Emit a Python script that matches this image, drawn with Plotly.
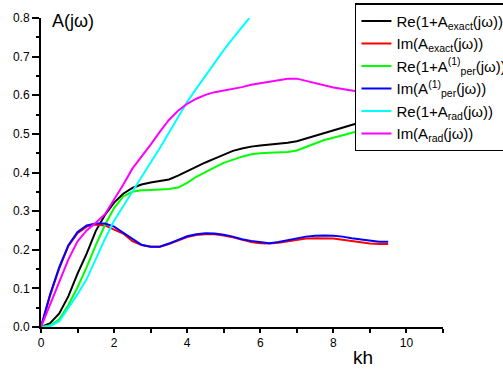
import plotly.graph_objects as go

kh = [0, 0.25, 0.5, 0.75, 1, 1.25, 1.5, 1.75, 2, 2.25, 2.5, 2.75, 3, 3.25, 3.5, 3.75,
      4, 4.25, 4.5, 4.75, 5, 5.25, 5.5, 5.75, 6, 6.25, 6.5, 6.75, 7, 7.25, 7.5, 7.75,
      8, 8.25, 8.5, 8.75, 9, 9.25, 9.5]

re_exact = [0, 0.01, 0.035, 0.08, 0.138, 0.19, 0.249, 0.29, 0.322, 0.345, 0.36, 0.369,
            0.374, 0.378, 0.382, 0.392, 0.404, 0.414, 0.426, 0.436, 0.446, 0.456, 0.462,
            0.467, 0.47, 0.472, 0.474, 0.477, 0.481, 0.488, 0.496, 0.504, 0.511, 0.518,
            0.524, 0.53, 0.535, 0.54, 0.544]

im_exact = [0, 0.082, 0.152, 0.21, 0.243, 0.26, 0.265, 0.263, 0.252, 0.242, 0.222, 0.212,
            0.208, 0.208, 0.215, 0.225, 0.233, 0.238, 0.24, 0.24, 0.237, 0.232, 0.225,
            0.22, 0.217, 0.216, 0.218, 0.222, 0.226, 0.229, 0.23, 0.23, 0.229, 0.226,
            0.222, 0.219, 0.216, 0.215, 0.215]

re_per = [0, 0.004, 0.02, 0.057, 0.103, 0.155, 0.212, 0.264, 0.308, 0.338, 0.35, 0.354,
          0.355, 0.356, 0.357, 0.361, 0.373, 0.389, 0.402, 0.413, 0.425, 0.434, 0.441,
          0.447, 0.45, 0.451, 0.452, 0.453, 0.457, 0.466, 0.476, 0.484, 0.49, 0.496,
          0.503, 0.51, 0.515, 0.52, 0.524]

im_per = [0, 0.085, 0.155, 0.212, 0.246, 0.263, 0.268, 0.268, 0.26, 0.245, 0.228, 0.213,
          0.208, 0.208, 0.216, 0.226, 0.235, 0.24, 0.243, 0.242, 0.239, 0.234, 0.227,
          0.223, 0.22, 0.217, 0.22, 0.225, 0.23, 0.234, 0.236, 0.237, 0.236, 0.234,
          0.23, 0.227, 0.223, 0.221, 0.221]

kh_rad = [0, 0.25, 0.5, 0.75, 1, 1.25, 1.5, 1.75, 2, 2.25, 2.5, 2.75, 3, 3.25, 3.5, 3.75,
          4, 4.25, 4.5, 4.75, 5, 5.25, 5.5, 5.7]
re_rad = [0, 0.002, 0.015, 0.05, 0.085, 0.124, 0.178, 0.228, 0.275, 0.313, 0.353, 0.39,
          0.426, 0.463, 0.503, 0.545, 0.583, 0.617, 0.65, 0.685, 0.717, 0.747, 0.775, 0.80]

im_rad = [0, 0.06, 0.118, 0.175, 0.222, 0.25, 0.27, 0.292, 0.33, 0.368, 0.41, 0.44,
          0.472, 0.505, 0.536, 0.56, 0.578, 0.591, 0.601, 0.608, 0.612, 0.616, 0.621,
          0.627, 0.631, 0.635, 0.639, 0.643, 0.643, 0.637, 0.63, 0.625, 0.62, 0.616,
          0.612, 0.608, 0.604, 0.6, 0.597]

series = [
    ("Re(1+A<sub>exact</sub>(jω))", kh, re_exact, "#000000"),
    ("Im(A<sub>exact</sub>(jω))", kh, im_exact, "#ff0000"),
    ("Re(1+A<sup>(1)</sup><sub>per</sub>(jω))", kh, re_per, "#00ff00"),
    ("Im(A<sup>(1)</sup><sub>per</sub>(jω))", kh, im_per, "#0000ff"),
    ("Re(1+A<sub>rad</sub>(jω))", kh_rad, re_rad, "#00ffff"),
    ("Im(A<sub>rad</sub>(jω))", kh, im_rad, "#ff00ff"),
]

fig = go.Figure()
for name, xs, ys, col in series:
    fig.add_trace(go.Scatter(x=xs, y=ys, mode="lines", name=name,
                             line=dict(color=col, width=2)))

font = "Liberation Sans, Arial, sans-serif"
fig.update_layout(
    width=503, height=371,
    margin=dict(l=41, r=60, t=18, b=44, autoexpand=False),
    paper_bgcolor="white", plot_bgcolor="white",
    font=dict(family=font, color="black", size=12),
    showlegend=True,
    legend=dict(x=0.781, y=1.048, xanchor="left", yanchor="top",
                bgcolor="white", bordercolor="black", borderwidth=1.5,
                font=dict(family=font, size=15, color="black"),
                tracegroupgap=0),
    xaxis=dict(range=[0, 11], dtick=2, tick0=0, showgrid=False, zeroline=False,
               showline=True, linecolor="black", linewidth=2,
               ticks="outside", ticklen=4, tickwidth=1.5, tickcolor="black",
               minor=dict(dtick=1, ticks="outside", ticklen=4, tickwidth=1.5,
                          tickcolor="black", showgrid=False),
               tickfont=dict(size=12)),
    yaxis=dict(range=[0, 0.8], dtick=0.1, tick0=0, tickformat=".1f", showgrid=False,
               zeroline=False, showline=True, linecolor="black", linewidth=2,
               ticks="outside", ticklen=7, tickwidth=1.5, tickcolor="black",
               minor=dict(dtick=0.05, ticks="outside", ticklen=3, tickwidth=1.5,
                          tickcolor="black", showgrid=False),
               tickfont=dict(size=12)),
    annotations=[
        dict(text="A(jω)", xref="paper", yref="paper", x=0.022, y=0.99,
             xanchor="left", yanchor="middle", showarrow=False,
             font=dict(family=font, size=18, color="black")),
        dict(text="kh", xref="paper", yref="paper", x=0.8, y=-0.1,
             xanchor="center", yanchor="middle", showarrow=False,
             font=dict(family=font, size=19, color="black")),
    ],
)

fig.write_html("out.html",
               config={"displayModeBar": False},
               post_script="document.body.style.margin='0';document.body.style.overflow='hidden';")
